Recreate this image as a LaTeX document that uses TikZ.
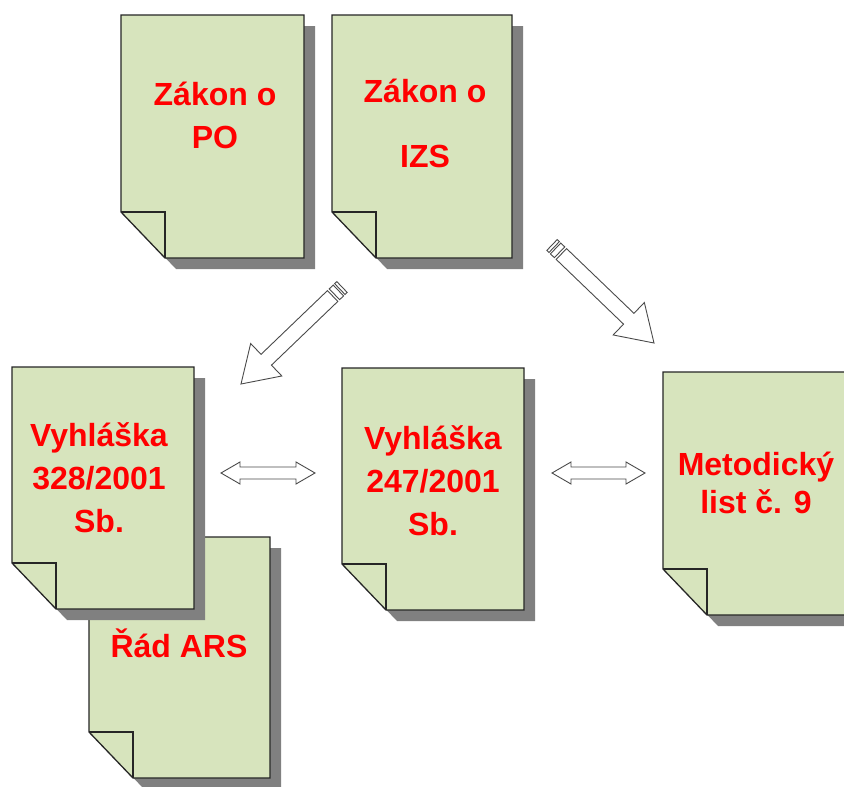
\documentclass[tikz,border=0pt]{standalone}
\usepackage{fontspec}
\setmainfont{Liberation Sans}
\usetikzlibrary{calc}
\definecolor{pagefill}{HTML}{D7E4BD}
\definecolor{shadowgray}{HTML}{808080}
\definecolor{arrowline}{HTML}{4A4A4A}
\tikzset{
  pageline/.style={draw=black!85, line width=1.3pt, line join=miter, fill=pagefill},
  foldline/.style={draw=black!85, line width=1.3pt, line join=miter},
  pageshadow/.style={fill=shadowgray},
  doctext/.style={font=\bfseries\fontsize{32}{43}\selectfont, text=red, align=center, anchor=base, inner sep=0pt},
  hollowarrow/.style={draw=arrowline, fill=white, line width=0.9pt, line join=miter},
}
% #1 name, #2 left, #3 top, #4 right, #5 bottom (pixel coordinates, y downwards)
\newcommand\docpage[5]{%
  \coordinate (#1-nw) at (#2,#3);
  \coordinate (#1-se) at (#4,#5);
  \fill[pageshadow] (#2+11,#3+11) -- (#4+11,#3+11) -- (#4+11,#5+11) -- (#2+55,#5+11) -- (#2+11,#5-35) -- cycle;
  \draw[pageline] (#1-nw) -- (#4,#3) -- (#1-se) -- (#2+44,#5) -- (#2,#5-46) -- cycle;
  \draw[foldline] (#2,#5-46) -- (#2+44,#5-46) -- (#2+44,#5);
}
\newcommand\getdir[2]{%
  \path let \p1=($(#2)-(#1)$) in \pgfextra{%
    \pgfmathsetmacro\tmpang{atan2(\y1,\x1)}%
    \pgfmathsetmacro\tmplen{veclen(\x1,\y1)}%
    \global\let\Arrang\tmpang\global\let\Arrlen\tmplen};%
}
\newcommand\stripedarrow[2]{%
  \getdir{#1}{#2}%
  \begin{scope}[shift={(#1)}, rotate=\Arrang]
    \draw[hollowarrow] (13,7.5) -- ({\Arrlen-35},7.5) -- ({\Arrlen-35},22.5) -- (\Arrlen,0)
      -- ({\Arrlen-35},-22.5) -- ({\Arrlen-35},-7.5) -- (13,-7.5) -- cycle;
    \draw[hollowarrow] (5,-7.5) rectangle (10.5,7.5);
    \draw[hollowarrow] (0,-7.5) rectangle (3,7.5);
  \end{scope}%
}
\newcommand\doublearrow[2]{%
  \getdir{#1}{#2}%
  \begin{scope}[shift={(#1)}, rotate=\Arrang]
    \draw[hollowarrow] (0,0) -- (19,11) -- (19,6) -- ({\Arrlen-19},6) -- ({\Arrlen-19},11) -- (\Arrlen,0)
      -- ({\Arrlen-19},-11) -- ({\Arrlen-19},-6) -- (19,-6) -- (19,-11) -- cycle;
  \end{scope}%
}
\begin{document}
\begin{tikzpicture}[x=1pt,y=-1pt]
\clip (0,0) rectangle (844,787);
\fill[white] (0,0) rectangle (844,787);

% top row (text nodes are placed at the baseline of their last line)
\docpage{po}{121}{15}{304}{258}
\node[doctext] (po-text) at (215,148) {Zákon o\\PO};
\docpage{izs}{332}{15}{512}{258}
\node[doctext] (izs-text) at (425,167) {Zákon o\\[22pt]IZS};

% bottom left (Řád ARS behind Vyhláška 328)
\docpage{ars}{89}{537}{270}{778}
\node[doctext] (ars-text) at (179,657) {Řád ARS};
\docpage{v328}{12}{367}{194}{609}
\node[doctext] (v328-text) at (99,532) {Vyhláška\\328/2001\\Sb.};

\docpage{v247}{342}{368}{524}{610}
\node[doctext] (v247-text) at (433,535) {Vyhláška\\247/2001\\Sb.};

\docpage{ml}{663}{372}{846}{615}
\node[doctext, font=\bfseries\fontsize{32}{38}\selectfont] (ml-text) at (756,513) {Metodický\\list č. 9};

% arrows
\coordinate (a1tail) at (342,287);
\coordinate (a1tip) at (241,384);
\coordinate (a2tail) at (552,245);
\coordinate (a2tip) at (654,343);
\stripedarrow{a1tail}{a1tip}
\stripedarrow{a2tail}{a2tip}

\coordinate (d1l) at (221,473);
\coordinate (d1r) at (315,473);
\coordinate (d2l) at (552,473);
\coordinate (d2r) at (645,473);
\doublearrow{d1l}{d1r}
\doublearrow{d2l}{d2r}
\end{tikzpicture}
\end{document}
